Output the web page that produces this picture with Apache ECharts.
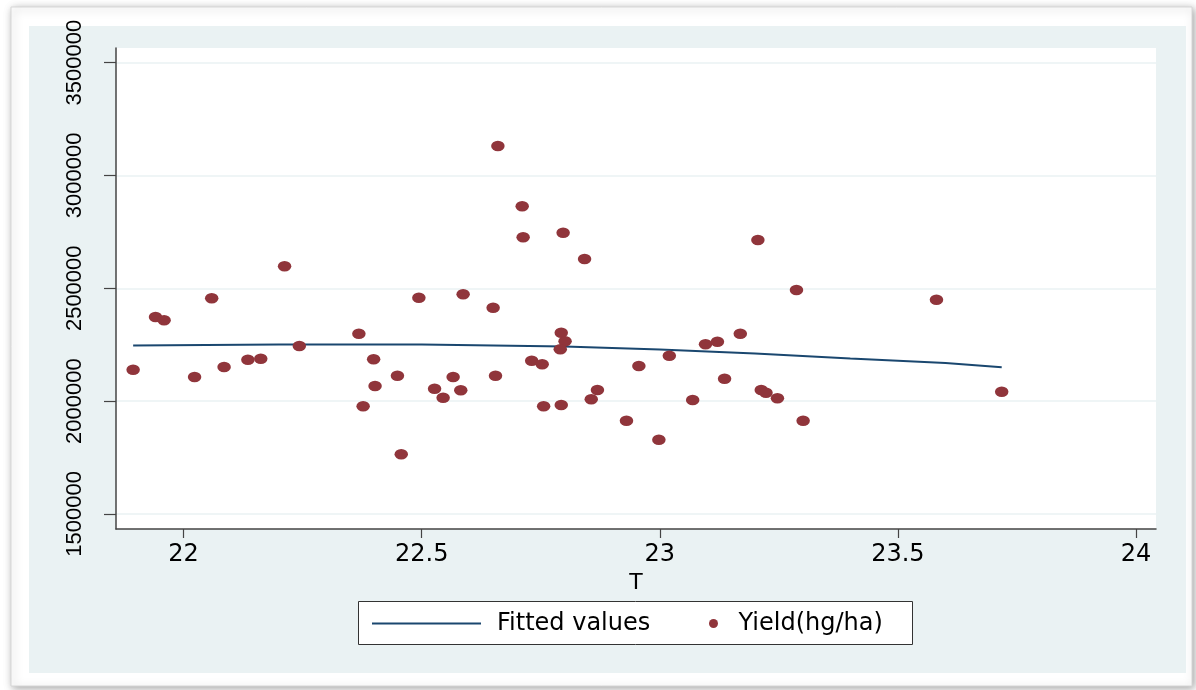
<!DOCTYPE html>
<html>
<head>
<meta charset="utf-8">
<script src="https://cdn.jsdelivr.net/npm/echarts@6/dist/echarts.min.js"></script>
<style>
html,body{margin:0;padding:0;background:#ffffff;}
#chart{width:1196px;height:690px;}
</style>
</head>
<body>
<div id="chart"></div>
<script>
// Observed data: mean temperature T and Yield (hg/ha)
const temperatureT = [21.894, 21.941, 21.959, 22.023, 22.059, 22.085, 22.135, 22.162, 22.212, 22.243,
  22.368, 22.399, 22.402, 22.377, 22.457, 22.449, 22.494, 22.527, 22.545, 22.566,
  22.582, 22.587, 22.650, 22.660, 22.655, 22.711, 22.713, 22.731, 22.753, 22.756,
  22.797, 22.793, 22.801, 22.791, 22.793, 22.842, 22.856, 22.869, 22.930, 22.956,
  22.998, 23.020, 23.069, 23.096, 23.121, 23.136, 23.169, 23.206, 23.213, 23.223,
  23.247, 23.287, 23.301, 23.581, 23.718];
const yieldHgHa = [2139100, 2372700, 2358000, 2106800, 2455500, 2151100, 2183400, 2187900, 2597300, 2244100,
  2298600, 2185200, 2066900, 1977000, 1764300, 2112500, 2458200, 2054900, 2015100, 2106800,
  2047900, 2473200, 2413900, 3130300, 2112500, 2863200, 2725800, 2179000, 2163100, 1977000,
  2746200, 2303100, 2265000, 2229500, 1982700, 2629600, 2008000, 2049200, 1913200, 2155500,
  1829000, 2201200, 2004900, 2251700, 2263200, 2099300, 2298600, 2713800, 2049200, 2037200,
  2012400, 2492300, 1913200, 2449300, 2041700];

// Fitted values curve
const fittedT = [21.894, 22.2, 22.5, 22.8, 23.0, 23.2, 23.4, 23.6, 23.718];
const fittedValues = [2246400, 2250800, 2250300, 2241900, 2228600, 2210900, 2188800, 2168800, 2150200];

// Tick labels
const xTicks = [22, 22.5, 23, 23.5, 24];
const yTicks = [1500000, 2000000, 2500000, 3000000, 3500000];

const seriesNames = ['Fitted values', 'Yield(hg/ha)'];

const scatterData = temperatureT.map((t, i) => [t, yieldHgHa[i]]);
const lineData = fittedT.map((t, i) => [t, fittedValues[i]]);

const FONT = '"DejaVu Sans", "Liberation Sans", sans-serif';
const YFONT = '"Liberation Sans", Arial, sans-serif';

const chart = echarts.init(document.getElementById('chart'), null, {renderer: 'canvas'});
chart.setOption({
  animation: false,
  backgroundColor: '#ffffff',
  graphic: [
    {type: 'rect', z: -20, shape: {x: 11, y: 7, width: 1181, height: 679},
     style: {fill: '#ffffff', stroke: '#d6d6d6', lineWidth: 1,
             shadowBlur: 8, shadowColor: 'rgba(0,0,0,0.35)', shadowOffsetX: 2, shadowOffsetY: 2}},
    {type: 'rect', z: -19, shape: {x: 29, y: 26, width: 1157, height: 647},
     style: {fill: '#EAF2F3'}},
    {type: 'rect', z: 1, shape: {x: 358.5, y: 601.5, width: 554, height: 43},
     style: {fill: '#ffffff', stroke: '#333333', lineWidth: 1}}
  ],
  grid: {
    left: 116, top: 48, width: 1040, height: 481,
    show: true, backgroundColor: '#ffffff', borderWidth: 0
  },
  legend: [
    {
      data: [{name: seriesNames[0], icon: 'rect'}], left: 372, top: 610.5, padding: 0,
      itemWidth: 109, itemHeight: 2, symbolKeepAspect: false, selectedMode: false, z: 5,
      textStyle: {fontSize: 24, color: '#000', fontFamily: FONT, lineHeight: 26, padding: [0, 0, 0, 11]}
    },
    {
      data: [seriesNames[1]], left: 709, top: 610.5, padding: 0,
      itemWidth: 12, itemHeight: 9, symbolKeepAspect: false, selectedMode: false, z: 5,
      textStyle: {fontSize: 24, color: '#000', fontFamily: FONT, lineHeight: 26, padding: [0, 0, 0, 14]}
    }
  ],
  xAxis: {
    type: 'value', min: 21.858, max: 24.042,
    name: 'T', nameLocation: 'middle', nameGap: 37,
    nameTextStyle: {fontSize: 22, color: '#000', fontFamily: FONT},
    axisLine: {show: true, onZero: false, lineStyle: {color: '#444', width: 1.5}},
    axisTick: {show: true, customValues: xTicks, length: 9, lineStyle: {color: '#444', width: 1.2}},
    axisLabel: {customValues: xTicks, margin: 14, fontSize: 24, color: '#000', fontFamily: FONT,
                formatter: v => String(v)},
    splitLine: {show: false}
  },
  yAxis: {
    type: 'value', min: 1433300, max: 3564600,
    axisLine: {show: true, onZero: false, lineStyle: {color: '#444', width: 1.5}},
    axisTick: {show: true, customValues: yTicks, length: 12, lineStyle: {color: '#444', width: 1.2}},
    axisLabel: {customValues: yTicks, rotate: 90, margin: 30, fontSize: 22, color: '#000', fontFamily: YFONT,
                formatter: v => String(v)},
    splitLine: {show: true, lineStyle: {color: '#EAF2F3', width: 1.5}}
  },
  series: [
    {
      name: seriesNames[0], type: 'line', data: lineData, symbol: 'none', smooth: false,
      lineStyle: {color: '#1A476F', width: 2}, itemStyle: {color: '#1A476F'},
      emphasis: {disabled: true}, z: 3
    },
    {
      name: seriesNames[1], type: 'scatter', data: scatterData, symbol: 'circle',
      symbolSize: [13.5, 10.5], itemStyle: {color: '#90353B', opacity: 1},
      emphasis: {disabled: true}, z: 4
    }
  ]
});
</script>
</body>
</html>
